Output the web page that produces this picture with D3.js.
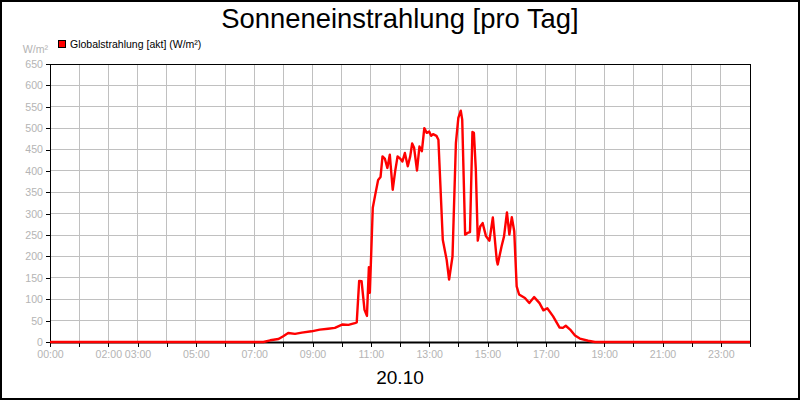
<!DOCTYPE html>
<html>
<head>
<meta charset="utf-8">
<script src="https://cdn.jsdelivr.net/npm/d3@7"></script>
<style>
  body { margin: 0; background: #fff; }
  svg { display: block; font-family: "Liberation Sans", Arial, sans-serif; }
</style>
</head>
<body>
<div class="viz"></div>
<script>
const width = 800;
const height = 400;
const margin = { top: 64, right: 50, bottom: 58, left: 50 };

// readings of the day (time of day, W/m²)
const times = [
  "00:00", "07:19", "07:33", "07:50", "07:59", "08:10", "08:24", "08:38", "08:58", "09:15",
  "09:32", "09:46", "10:02", "10:14", "10:27", "10:31", "10:36", "10:41", "10:47", "10:52",
  "10:56", "10:58", "11:04", "11:09", "11:15", "11:20", "11:24", "11:29", "11:34", "11:39",
  "11:45", "11:50", "11:55", "12:01", "12:05", "12:10", "12:16", "12:21", "12:25", "12:29",
  "12:35", "12:40", "12:45", "12:50", "12:55", "13:00", "13:04", "13:08", "13:15", "13:19",
  "13:28", "13:36", "13:41", "13:48", "13:55", "14:00", "14:05", "14:08", "14:14", "14:19",
  "14:24", "14:29", "14:32", "14:36", "14:40", "14:45", "14:50", "14:57", "15:04", "15:11",
  "15:19", "15:21", "15:29", "15:34", "15:40", "15:45", "15:50", "15:55", "16:00", "16:05",
  "16:17", "16:26", "16:36", "16:47", "16:55", "17:03", "17:15", "17:28", "17:35", "17:41",
  "17:50", "18:00", "18:10", "18:27", "18:41", "24:00"
];
const globalstrahlung = [
  0, 0, 4, 7, 13, 21, 19, 22, 25, 29,
  31, 33, 41, 40, 44, 46, 143, 142, 75, 61,
  175, 115, 314, 344, 379, 386, 434, 428, 407, 438,
  356, 399, 434, 428, 422, 442, 411, 434, 464, 454,
  401, 457, 446, 500, 489, 492, 482, 486, 482, 473,
  239, 192, 146, 200, 465, 524, 541, 520, 251, 255,
  257, 491, 489, 403, 237, 270, 278, 247, 237, 291,
  192, 181, 224, 247, 303, 251, 292, 259, 130, 111,
  103, 91, 105, 91, 74, 79, 60, 34, 33, 38,
  29, 15, 8, 3, 0, 0
];

const yTicks = d3.range(0, 651, 50);
const hourTicks = d3.range(0, 25);
const hourLabels = [0, 2, 3, 5, 7, 9, 11, 13, 15, 17, 19, 21, 23];

const title = "Sonneneinstrahlung [pro Tag]";
const dateLabel = "20.10";
const seriesName = "Globalstrahlung [akt] (W/m²)";
const unit = "W/m²";

const toHours = t => {
  const [h, m] = t.split(":").map(Number);
  return h + m / 60;
};
const data = times.map((t, i) => ({ h: toHours(t), v: globalstrahlung[i] }));

const svg = d3.select(".viz").append("svg")
  .attr("width", width)
  .attr("height", height);

svg.append("rect")
  .attr("x", 1).attr("y", 1)
  .attr("width", width - 2).attr("height", height - 2)
  .attr("fill", "#fff")
  .attr("stroke", "#000")
  .attr("stroke-width", 2);

const x = d3.scaleLinear().domain([0, 24]).range([margin.left, width - margin.right]);
const y = d3.scaleLinear().domain([0, 650]).range([height - margin.bottom, margin.top]);

// grid
svg.append("g").selectAll("line.v")
  .data(hourTicks)
  .join("line")
  .attr("x1", d => x(d)).attr("x2", d => x(d))
  .attr("y1", y(0)).attr("y2", y(650))
  .attr("stroke", "#c0c0c0")
  .attr("shape-rendering", "crispEdges");

svg.append("g").selectAll("line.h")
  .data(yTicks)
  .join("line")
  .attr("x1", x(0)).attr("x2", x(24))
  .attr("y1", d => y(d)).attr("y2", d => y(d))
  .attr("stroke", "#c0c0c0")
  .attr("shape-rendering", "crispEdges");

// y axis
const yAxis = svg.append("g")
  .attr("transform", `translate(${margin.left},0)`)
  .call(d3.axisLeft(y).tickValues(yTicks).tickSize(4).tickPadding(3));
yAxis.select(".domain").remove();
yAxis.selectAll(".tick line").attr("stroke", "#000").attr("shape-rendering", "crispEdges");
yAxis.selectAll(".tick text")
  .attr("fill", "#b4b4b4")
  .style("font-family", "Liberation Sans, Arial, sans-serif")
  .style("font-size", "10.6px");

// x axis
const xAxis = svg.append("g")
  .attr("transform", `translate(0,${y(0)})`)
  .call(d3.axisBottom(x).tickValues(hourTicks).tickSize(5).tickPadding(3)
    .tickFormat(d => hourLabels.includes(d) ? d3.format("02")(d) + ":00" : ""));
xAxis.select(".domain").remove();
xAxis.selectAll(".tick line").attr("stroke", "#000").attr("shape-rendering", "crispEdges");
xAxis.selectAll(".tick text")
  .attr("fill", "#b4b4b4")
  .style("font-family", "Liberation Sans, Arial, sans-serif")
  .style("font-size", "10.6px");

// plot frame
svg.append("rect")
  .attr("x", x(0)).attr("y", y(650))
  .attr("width", x(24) - x(0)).attr("height", y(0) - y(650))
  .attr("fill", "none")
  .attr("stroke", "#000")
  .attr("shape-rendering", "crispEdges");
svg.append("line")
  .attr("x1", x(0)).attr("x2", x(24))
  .attr("y1", y(0) + 0.5).attr("y2", y(0) + 0.5)
  .attr("stroke", "#000")
  .attr("stroke-width", 2);

// series
const line = d3.line()
  .x(d => x(d.h))
  .y(d => y(d.v));

svg.append("path")
  .datum(data)
  .attr("fill", "none")
  .attr("stroke", "#ff0000")
  .attr("stroke-width", 2.4)
  .attr("stroke-linejoin", "round")
  .attr("d", line);

// texts
svg.append("text")
  .attr("x", width / 2).attr("y", 27.5)
  .attr("text-anchor", "middle")
  .style("font-size", "27.4px")
  .text(title);

svg.append("text")
  .attr("x", width / 2).attr("y", 384)
  .attr("text-anchor", "middle")
  .style("font-size", "19px")
  .text(dateLabel);

svg.append("rect")
  .attr("x", 58.5).attr("y", 40.5)
  .attr("width", 7).attr("height", 7)
  .attr("fill", "#ff0000")
  .attr("stroke", "#000");

svg.append("text")
  .attr("x", 70).attr("y", 48)
  .style("font-size", "10.5px")
  .text(seriesName);

svg.append("text")
  .attr("x", 48).attr("y", 52.5)
  .attr("text-anchor", "end")
  .attr("fill", "#b4b4b4")
  .style("font-size", "10.6px")
  .text(unit);
</script>
</body>
</html>
